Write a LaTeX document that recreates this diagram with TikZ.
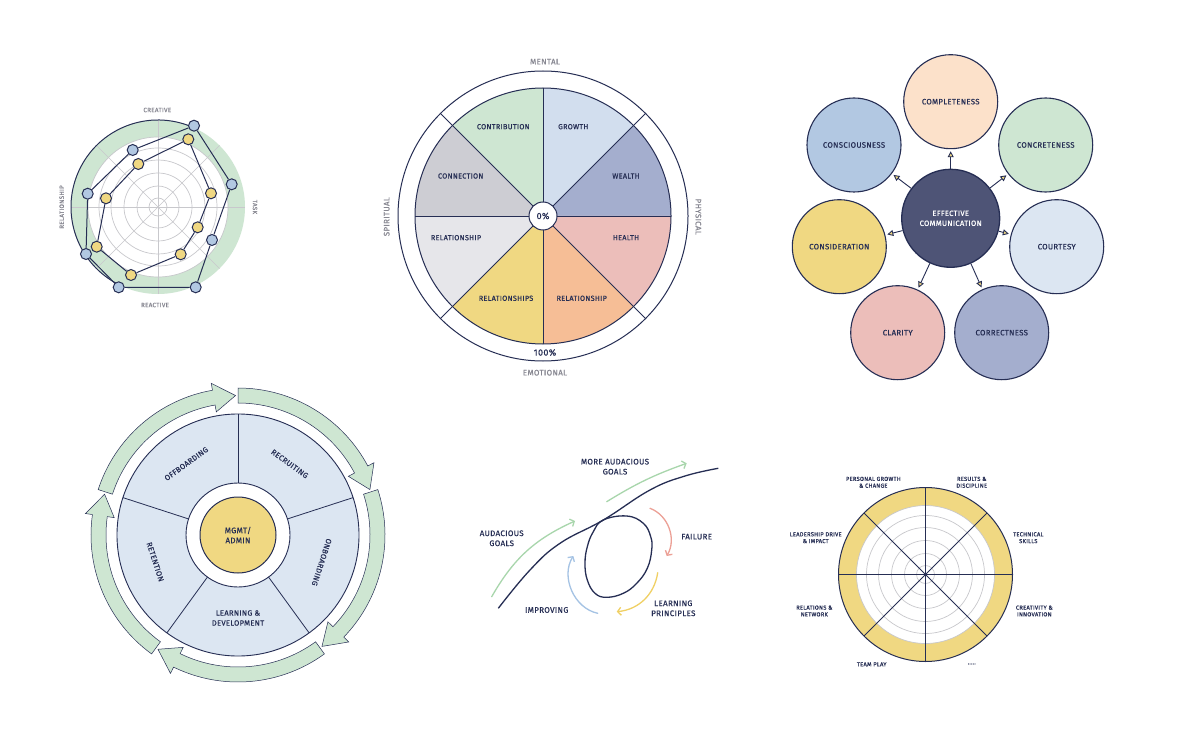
\documentclass[tikz,border=0pt]{standalone}
\usepackage{fontspec}
\setmainfont{Fira Sans}[FakeBold=0.5, LetterSpace=4]
\usetikzlibrary{arrows.meta}
\definecolor{cnavy}{RGB}{38,46,84}
\definecolor{cgray}{RGB}{135,135,145}
\definecolor{cgrid}{RGB}{200,200,204}
\definecolor{cgreen}{RGB}{206,230,210}
\definecolor{cblue}{RGB}{178,200,226}
\definecolor{cyellow}{RGB}{240,216,130}
\definecolor{clblue}{RGB}{210,222,238}
\definecolor{cslate}{RGB}{164,174,206}
\definecolor{cpink}{RGB}{236,190,186}
\definecolor{corange}{RGB}{246,190,150}
\definecolor{clgray}{RGB}{230,230,234}
\definecolor{cmgray}{RGB}{205,205,211}
\definecolor{cpeach}{RGB}{252,225,202}
\definecolor{cdark}{RGB}{78,84,118}
\definecolor{cpale}{RGB}{220,230,242}
\definecolor{cagreen}{RGB}{168,214,172}
\definecolor{cared}{RGB}{236,160,150}
\definecolor{cayellow}{RGB}{240,208,100}
\definecolor{cablue}{RGB}{165,195,228}
\tikzset{
  grid/.style={cgrid, line width=0.7pt},
  glab/.style={text=cgray, inner sep=0, font=\fontsize{6.3}{7}\selectfont},
  glabb/.style={text=cgray, inner sep=0, font=\fontsize{8}{9}\selectfont},
  lab/.style={text=cnavy, inner sep=0, align=center, font=\fontsize{7.3}{9}\selectfont},
  slab/.style={text=cnavy, inner sep=0, align=center, font=\fontsize{5.8}{6.8}\selectfont},
  blab/.style={text=cnavy, inner sep=0, align=center, font=\fontsize{8}{10}\selectfont},
  bdot/.style={circle, draw=cnavy, fill=cblue, line width=1pt, minimum size=11, inner sep=0},
  ydot/.style={circle, draw=cnavy, fill=cyellow, line width=1pt, minimum size=11, inner sep=0},
  poly/.style={cnavy, line width=1pt},
  bubble/.style={circle, draw=cnavy, line width=1.1pt, minimum size=94, inner sep=0, text=cnavy, align=center, font=\fontsize{7.8}{10}\selectfont},
  commarrow/.style={cnavy, line width=0.9pt, shorten >=2pt, -{Triangle[length=6pt,width=6pt,fill=cyellow]}},
  loopline/.style={cnavy, line width=1.3pt},
  larrow/.style={line width=1.3pt, line cap=round, -{Straight Barb[length=3.5pt,width=8pt]}},
  greenarrow/.style={fill=cgreen, draw=cnavy, line width=0.5pt},
}
\begin{document}
\begin{tikzpicture}[x=1pt,y=1pt]
\useasboundingbox (0,0) rectangle (1177,-735);
\fill[white] (0,0) rectangle (1177,-735);

% ---------------- Panel 1: radar ----------------
\begin{scope}[shift={(158,-207)}]
  \fill[cgreen, even odd rule] (0,0) circle[radius=87] (0,0) circle[radius=70];
  \foreach \r in {9,21,34,47,59,70} \draw[grid] (0,0) circle[radius=\r];
  \foreach \a in {0,45,...,315} \draw[grid] (0,0) -- (\a:87);
  \draw[cnavy, line width=1pt] (66:87) arc[start angle=66, end angle=244, radius=87];
\end{scope}
\node[bdot] (b1) at (194,-125.7) {};
\node[bdot] (b2) at (231.7,-184.3) {};
\node[bdot] (b3) at (212,-240) {};
\node[bdot] (b4) at (195.7,-287.3) {};
\node[bdot] (b5) at (118.7,-287.3) {};
\node[bdot] (b6) at (86,-254) {};
\node[bdot] (b7) at (87.7,-193.7) {};
\node[bdot] (b8) at (132.7,-150) {};
\node[ydot] (y1) at (188.3,-139.3) {};
\node[ydot] (y2) at (211,-193.3) {};
\node[ydot] (y3) at (197.7,-227.3) {};
\node[ydot] (y4) at (180.7,-254.3) {};
\node[ydot] (y5) at (131,-275) {};
\node[ydot] (y6) at (96.7,-246.7) {};
\node[ydot] (y7) at (106,-198.3) {};
\node[ydot] (y8) at (138.3,-164) {};
\draw[poly] (b1) -- (b2) -- (b3) -- (b4) -- (b5) -- (b6) -- (b7) -- (b8) -- (b1);
\draw[poly] (y1) -- (y2) -- (y3) -- (y4) -- (y5) -- (y6) -- (y7) -- (y8) -- (y1);
\node[glab] (creative) at (157.3,-110) {CREATIVE};
\node[glab, rotate=-90] (task) at (255,-207) {TASK};
\node[glab] (reactive) at (155,-305) {REACTIVE};
\node[glab, rotate=90] (relship) at (61.7,-207) {RELATIONSHIP};

% ---------------- Panel 2: wheel ----------------
\begin{scope}[shift={(543,-216)}]
  \foreach \a/\c in {90/cgreen,45/clblue,0/cslate,-45/cpink,-90/corange,-135/cyellow,180/clgray,135/cmgray}
    \fill[\c] (0,0) -- (\a:128) arc[start angle=\a, delta angle=45, radius=128] -- cycle;
  \foreach \a in {0,45,...,315} \draw[cnavy, line width=0.8pt] (0,0) -- (\a:128);
  \foreach \a in {45,135,225,315} \draw[cnavy, line width=0.8pt] (\a:128) -- (\a:145);
  \draw[cnavy, line width=1pt] (0,0) circle[radius=128];
  \draw[cnavy, line width=1pt] (0,0) circle[radius=145];
  \node[circle, draw=cnavy, fill=white, minimum size=28, inner sep=0, line width=1pt, text=cnavy, font=\fontsize{9}{10}\selectfont] (zero) at (0,0) {0\%};
\end{scope}
\node[lab] (w1) at (503.3,-126.7) {CONTRIBUTION};
\node[lab] (w2) at (573.3,-126.7) {GROWTH};
\node[lab] (w3) at (626,-176) {WEALTH};
\node[lab] (w4) at (626,-237.7) {HEALTH};
\node[lab] (w5) at (581.7,-298.3) {RELATIONSHIP};
\node[lab] (w6) at (506,-298.3) {RELATIONSHIPS};
\node[lab] (w7) at (456,-237.7) {RELATIONSHIP};
\node[lab] (w8) at (460.7,-176) {CONNECTION};
\node[text=cnavy, inner sep=0, font=\fontsize{9}{10}\selectfont] (hundred) at (545,-352.5) {100\%};
\node[glabb] (mental) at (545,-61.7) {MENTAL};
\node[glabb] (emotional) at (545,-372.7) {EMOTIONAL};
\node[glabb, rotate=90] (spiritual) at (386.7,-216.7) {SPIRITUAL};
\node[glabb, rotate=-90] (physical) at (698.3,-216.7) {PHYSICAL};

% ---------------- Panel 3: communication ----------------
\node[circle, draw=cnavy, fill=cdark, line width=1.3pt, minimum size=98, inner sep=0, text=white, align=center, font=\fontsize{7.6}{10}\selectfont] (ec) at (950.7,-218.3) {EFFECTIVE\\COMMUNICATION};
\node[bubble, fill=cpeach] (c1) at (950.7,-101.7) {COMPLETENESS};
\node[bubble, fill=cgreen] (c2) at (1045.7,-145) {CONCRETENESS};
\node[bubble, fill=cpale] (c3) at (1056.7,-246.7) {COURTESY};
\node[bubble, fill=cslate] (c4) at (1001.7,-332.7) {CORRECTNESS};
\node[bubble, fill=cpink] (c5) at (897.7,-332.7) {CLARITY};
\node[bubble, fill=cyellow] (c6) at (839.3,-246.7) {CONSIDERATION};
\node[bubble, fill=cblue] (c7) at (854,-145) {CONSCIOUSNESS};
\foreach \n in {c1,c2,c3,c4,c5,c6,c7} \draw[commarrow] (ec) -- (\n);

% ---------------- Panel 4: cycle ----------------
\begin{scope}[shift={(238,-535)}]
  \fill[cpale, even odd rule] (0,0) circle[radius=121] (0,0) circle[radius=52];
  \draw[cnavy, line width=0.9pt] (0,0) circle[radius=121] (0,0) circle[radius=52];
  \foreach \a in {18,90,162,234,306} \draw[cnavy, line width=0.8pt] (\a:52) -- (\a:121);
  \node[circle, fill=cyellow, draw=cnavy, line width=1pt, minimum size=76, inner sep=0, text=cnavy, align=center, font=\fontsize{8}{10}\selectfont] (mgmt) at (0,0) {MGMT/\\ADMIN};
  \foreach \s in {162,90,18,-54,-126} {
    \pgfmathsetmacro\t{\s-71}
    \pgfmathsetmacro\h{\t+9}
    \filldraw[greenarrow] (\s:147) arc[start angle=\s, end angle=\h, radius=147]
      -- (\h:154) -- (\t:139.5) -- (\h:125) -- (\h:132)
      arc[start angle=\h, end angle=\s, radius=132] -- cycle;
  }
  \node[lab, font=\fontsize{7.6}{10}\selectfont, rotate=36] (offb) at (126:88) {OFFBOARDING};
  \node[lab, font=\fontsize{7.6}{10}\selectfont, rotate=-36] (recr) at (54:88) {RECRUITING};
  \node[lab, font=\fontsize{7.6}{10}\selectfont, rotate=-108] (onb) at (-18:88) {ONBOARDING};
  \node[lab, font=\fontsize{7.6}{10}\selectfont, rotate=-72] (ret) at (198:87) {RETENTION};
  \node[lab, font=\fontsize{7.6}{10}\selectfont] (ld) at (270:83) {LEARNING \&\\DEVELOPMENT};
\end{scope}

% ---------------- Panel 5: loop ----------------
\draw[loopline] plot[smooth, tension=0.7] coordinates {(498.3,-608.3) (530,-570) (560,-543.3) (603.3,-520) (650,-490) (685,-476) (718.3,-468.3)};
\draw[loopline] plot[smooth cycle, tension=0.7] coordinates {(603.3,-520) (626.7,-516) (643.3,-523.3) (650.7,-536.7) (651.7,-550) (647.3,-568.3) (636.7,-583.3) (623.3,-593.3) (606.7,-597.3) (595,-593.3) (587.3,-580) (585,-563.3) (587.3,-546.7) (593.3,-531.7)};
\coordinate (g1s) at (491.7,-596.7);
\coordinate (g1e) at (575,-521);
\coordinate (g2s) at (606.7,-501.7);
\coordinate (g2e) at (686.7,-463.3);
\coordinate (rs) at (650,-508.3);
\coordinate (re) at (666.7,-556);
\coordinate (ys) at (657.7,-572.7);
\coordinate (ye) at (616.7,-611.7);
\coordinate (bs) at (597.7,-613.3);
\coordinate (be) at (573.3,-556);
\draw[larrow, cagreen] (g1s) to[bend left=18] (g1e);
\draw[larrow, cagreen] (g2s) to[bend left=6] (g2e);
\draw[larrow, cared] (rs) to[bend left=50] (re);
\draw[larrow, cayellow] (ys) to[bend left=38] (ye);
\draw[larrow, cablue] (bs) to[bend left=55] (be);
\node[blab] (mag) at (615,-466.7) {MORE AUDACIOUS\\GOALS};
\node[blab] (ag) at (501.7,-538.3) {AUDACIOUS\\GOALS};
\node[blab] (fail) at (696.7,-536.7) {FAILURE};
\node[blab] (lp) at (673.3,-608.3) {LEARNING\\PRINCIPLES};
\node[blab] (impr) at (546.7,-610) {IMPROVING};

% ---------------- Panel 6: wheel ----------------
\begin{scope}[shift={(925.5,-574.5)}]
  \fill[cyellow, even odd rule] (0,0) circle[radius=87] (0,0) circle[radius=69];
  \foreach \r in {9,21,34,47,59,69} \draw[grid] (0,0) circle[radius=\r];
  \foreach \a in {0,45,...,315} \draw[cnavy, line width=0.8pt] (0,0) -- (\a:87);
  \draw[cnavy, line width=1pt] (0,0) circle[radius=87];
\end{scope}
\node[slab] (p1) at (873.3,-482.3) {PERSONAL GROWTH\\\& CHANGE};
\node[slab] (p2) at (971.7,-482.3) {RESULTS \&\\DISCIPLINE};
\node[slab] (p3) at (1028.3,-537.7) {TECHNICAL\\SKILLS};
\node[slab] (p4) at (1034.3,-611) {CREATIVITY \&\\INNOVATION};
\node[slab] (p5) at (971.7,-664) {.....};
\node[slab] (p6) at (871.7,-664.3) {TEAM PLAY};
\node[slab] (p7) at (814.3,-611) {RELATIONS \&\\NETWORK};
\node[slab] (p8) at (815.7,-537.7) {LEADERSHIP DRIVE\\\& IMPACT};
\end{tikzpicture}
\end{document}
